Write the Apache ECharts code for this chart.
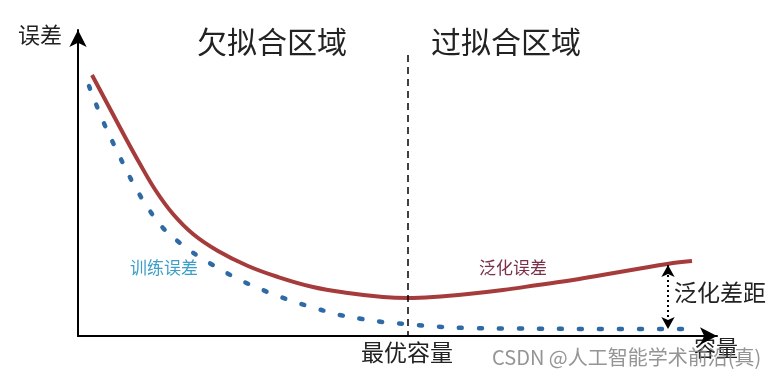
<!DOCTYPE html>
<html><head><meta charset="utf-8">
<script src="https://cdn.jsdelivr.net/npm/echarts@6/dist/echarts.min.js"></script>
<style>html,body{margin:0;padding:0;background:#fff}#c{width:783px;height:381px}</style>
</head><body><div id="c"></div>
<script>
// capacity (x) vs error (y), arbitrary units
const genX = [14,30,46,62,78,95,115,140,170,200,235,270,305,330,355,390,425,460,495,530,565,595,614];
const genY = [261,231,201,172,145,122,102,85,70,59,49,43,39,38,39,42,46,51,56,62,68,73,75];
const trainX = [11,25,40,55,70,85,102,120,140,160,180,200,220,240,262,284,305,328,350,390,440,520,619];
const trainY = [250,215,183,153,128,108,93,80,68,57,48,40,33,27,21,17,14,12,10,8,7.5,7,7];
const optimalX = 330;          // 最优容量
const optimalTop = 281;
const gapX = 590, gapTop = 71, gapBottom = 7; // 泛化差距
const xMax = 639, yMax = 306;

const F = 'Noto Sans CJK SC';
function txt(left, top, text, size, color) {
  return {type: 'text', left: left, top: top,
    style: {text: text, fontSize: size, fontFamily: F, fill: color}};
}
const chart = echarts.init(document.getElementById('c'));
chart.setOption({
  animation: false,
  backgroundColor: '#fff',
  grid: {left: 78, top: 30, width: 639, height: 306},
  xAxis: {type: 'value', min: 0, max: xMax,
    axisLine: {show: true, symbol: ['none','arrow'], symbolSize: [13,17], lineStyle: {color: '#000', width: 2}},
    axisTick: {show: false}, axisLabel: {show: false}, splitLine: {show: false}},
  yAxis: {type: 'value', min: 0, max: yMax,
    axisLine: {show: true, symbol: ['none','arrow'], symbolSize: [13,17], lineStyle: {color: '#000', width: 2}},
    axisTick: {show: false}, axisLabel: {show: false}, splitLine: {show: false}},
  series: [
    {type: 'line', name: '泛化误差', smooth: 0.4, symbol: 'none',
     data: genX.map((x,i)=>[x,genY[i]]),
     lineStyle: {color: '#a53c3b', width: 4},
     markLine: {silent: true, symbol: ['arrow','arrow'], symbolSize: [10,12], label: {show: false},
       lineStyle: {color: '#000', width: 2, type: [2,3]},
       data: [[{coord: [gapX, gapTop]}, {coord: [gapX, gapBottom]}]]}},
    {type: 'line', name: '训练误差', smooth: 0.4, symbol: 'none',
     data: trainX.map((x,i)=>[x,trainY[i]]),
     lineStyle: {color: '#2e6aa5', width: 4.5, type: [3,17], cap: 'round'},
     markLine: {silent: true, symbol: 'none', label: {show: false},
       lineStyle: {color: '#000', width: 1.5, type: [7,5]},
       data: [[{coord: [optimalX, optimalTop]}, {coord: [optimalX, 0]}]]}}
  ],
  graphic: [
    txt(18, 24, '误差', 22, '#222'),
    txt(197, 27, '欠拟合区域', 30, '#222'),
    txt(431, 27, '过拟合区域', 30, '#222'),
    txt(130, 259, '训练误差', 17, '#3c9fc8'),
    txt(479, 259, '泛化误差', 17, '#7a3046'),
    txt(674, 281, '泛化差距', 23, '#222'),
    txt(361, 341, '最优容量', 23, '#222'),
    txt(694, 337, '容量', 22, '#222'),
    txt(492, 347, 'CSDN @人工智能学术前沿(真)', 20, 'rgba(130,130,130,0.85)')
  ]
});
</script></body></html>
